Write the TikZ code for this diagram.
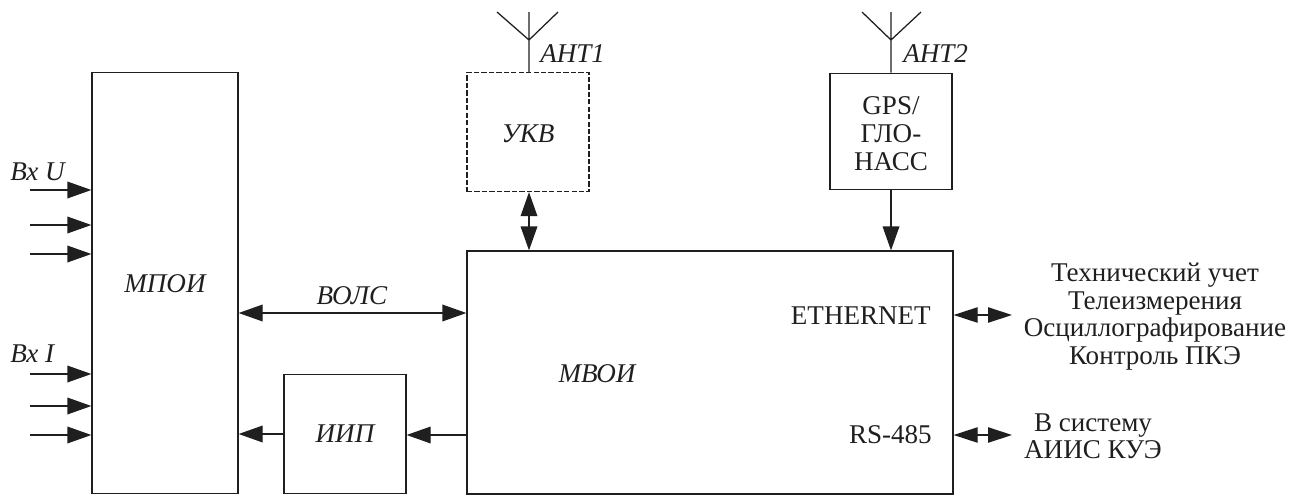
\documentclass[tikz,border=0pt]{standalone}
\usepackage{fontspec}
\setmainfont{Liberation Serif}
\usetikzlibrary{arrows.meta}
\tikzset{
  x=0.75pt,y=-0.75pt,
  wire/.style={draw=black!88,line width=0.95pt},
  box/.style={wire,rectangle,inner sep=0pt},
  dashbox/.style={box,dash pattern=on 4pt off 1.6pt},
  lbl/.style={inner sep=0pt,text=black!88,font=\fontsize{20.3}{21}\selectfont},
  ilbl/.style={lbl,font=\fontsize{20.3}{21}\selectfont\itshape},
  sig/.style={wire,-{Triangle[length=18pt,width=12.5pt]}},
  bisig/.style={wire,{Triangle[length=18pt,width=12.5pt]}-{Triangle[length=18pt,width=12.5pt]}},
  shortbi/.style={wire,{Triangle[length=18pt,width=11.5pt]}-{Triangle[length=18pt,width=11.5pt]}},
}
\begin{document}
\begin{tikzpicture}
\useasboundingbox (0,0) rectangle (1299,496);
% boxes
\node[box,minimum width=109.5pt,minimum height=316pt] (mpoi) at (165,283) {};
\node[box,minimum width=91.5pt,minimum height=89.5pt] (iip) at (345,434) {};
\node[box,minimum width=364.5pt,minimum height=182.2pt] (mvoi) at (710,372.5) {};
\node[box,dashbox,minimum width=91.5pt,minimum height=89.3pt] (ukv) at (528,132) {};
\node[box,minimum width=91.5pt,minimum height=87.5pt] (gps) at (891,131.5) {};
% box texts
\node[ilbl] (tmpoi) at (165,284) {МПОИ};
\node[ilbl] (tiip) at (345,434) {ИИП};
\node[ilbl] (tmvoi) at (597,374) {МВОИ};
\node[ilbl] (tukv) at (528,134) {УКВ};
\node[lbl,align=center] (tgps) at (891,134) {GPS/\\ГЛО-\\НАСС};
\node[lbl,anchor=east] (teth) at (931,316) {ETHERNET};
\node[lbl,anchor=east] (trs) at (932,435) {RS-485};
% other texts
\node[ilbl,anchor=west] (tbxu) at (10,172) {Вх U};
\node[ilbl,anchor=west] (tbxi) at (10,354) {Вх I};
\node[ilbl] (tvols) at (352,296) {ВОЛС};
\node[ilbl,anchor=west] (tant1) at (540,54) {АНТ1};
\node[ilbl,anchor=west] (tant2) at (903,54) {АНТ2};
\node[lbl,align=center,font=\fontsize{20.3}{20.8}\selectfont] (tright) at (1155,316.5) {Технический учет\\Телеизмерения\\Осциллографирование\\Контроль ПКЭ};
\node[lbl,align=center,font=\fontsize{20.3}{20.3}\selectfont] (tsys) at (1093,436) {В систему\\АИИС КУЭ};
% inputs
\foreach \n/\yy in {a/190,b/225,c/254,d/374,e/406,f/435}{
  \coordinate (in\n) at (30,\yy);
  \draw[sig] (in\n) -- (in\n -| mpoi.west);
}
% links
\coordinate (volsy) at (300,313);
\draw[bisig] (volsy -| mpoi.east) -- (volsy -| mvoi.west);
\draw[sig] (iip.west) -- (iip.west -| mpoi.east);
\coordinate (iipy) at (440,435);
\draw[sig] (iipy -| mvoi.west) -- (iipy -| iip.east);
\draw[bisig] (ukv.south -| 529,0) -- (mvoi.north -| 529,0);
\draw[sig] (gps.south) -- (gps.south |- mvoi.north);
% right stubs
\coordinate (ethend) at (1012,315);
\coordinate (rsend) at (1012,435);
\draw[shortbi] (ethend -| mvoi.east) -- (ethend);
\draw[shortbi] (rsend -| mvoi.east) -- (rsend);
% antennas
\coordinate (a1j) at (529,40);
\coordinate (a1t) at (529,12);
\coordinate (a1l) at (497,12);
\coordinate (a1r) at (558,12);
\draw[wire] (ukv.north -| a1j) -- (a1t) (a1l) -- (a1j) -- (a1r);
\coordinate (a2j) at (891,40);
\coordinate (a2t) at (891,12);
\coordinate (a2l) at (862,12);
\coordinate (a2r) at (921,12);
\draw[wire] (gps.north) -- (a2t) (a2l) -- (a2j) -- (a2r);
\end{tikzpicture}
\end{document}
